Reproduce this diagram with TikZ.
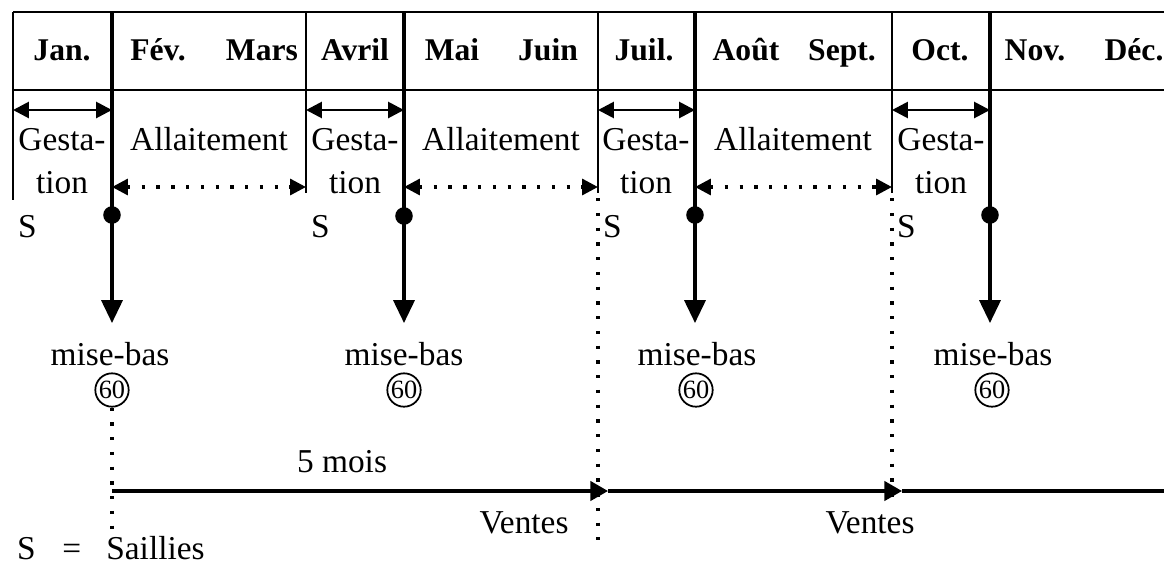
\documentclass[tikz,border=0pt]{standalone}
\usepackage{fontspec}
\setmainfont{Liberation Serif}
\usetikzlibrary{arrows.meta,positioning,calc}

\begin{document}
\begin{tikzpicture}[x=0.02cm,y=-0.02cm,
  every path/.style={line width=1.4pt},
  monthlbl/.style={font=\fontsize{18}{20}\selectfont\bfseries,inner sep=0pt,text height=1.6ex,text depth=.2ex},
  txt/.style={font=\fontsize{19}{21}\selectfont,inner sep=0pt,text height=1.6ex,text depth=.2ex},
  dotvertex/.style={circle,fill=black,inner sep=0pt,minimum size=10pt},
  ringlbl/.style={circle,draw=black,line width=1pt,inner sep=0pt,minimum size=19pt,font=\fontsize{15}{16}\selectfont},
  gestarrow/.style={{Triangle[length=9pt,width=9pt]}-{Triangle[length=9pt,width=9pt]},line width=1.6pt},
  allarrow/.style={{Triangle[length=9pt,width=9pt]}-{Triangle[length=9pt,width=9pt]},line width=1.9pt,dash pattern=on 1.9pt off 6.5pt},
  birtharrow/.style={-{Triangle[length=13pt,width=12pt]},line width=1.8pt},
  saleline/.style={line width=1.9pt,dash pattern=on 1.9pt off 6.5pt},
  salearrow/.style={-{Triangle[length=10pt,width=11pt]},line width=1.8pt}]
\useasboundingbox (0,0) rectangle (1164,569);

% table of months
\coordinate (g0) at (13,12);
\coordinate (g1) at (112,12);
\coordinate (g2) at (306,12);
\coordinate (g3) at (404,12);
\coordinate (g4) at (598,12);
\coordinate (g5) at (695,12);
\coordinate (g6) at (892,12);
\coordinate (g7) at (990,12);
\draw (g0) -- (1164,12);
\draw (13,90) -- (1164,90);
\draw (g0) -- (13,200);
\draw (g2) -- (306,193);
\draw (g4) -- (598,193);
\draw (g6) -- (892,193);
\draw (g7) -- (990,90);

\node[monthlbl] (jan) at (62,55) {Jan.};
\node[monthlbl] (fev) at (158,55) {Fév.};
\node[monthlbl] (mar) at (262,55) {Mars};
\node[monthlbl] (avr) at (355,55) {Avril};
\node[monthlbl] (mai) at (452,55) {Mai};
\node[monthlbl] (jun) at (548,55) {Juin};
\node[monthlbl] (jul) at (644,55) {Juil.};
\node[monthlbl] (aou) at (746,55) {Août};
\node[monthlbl] (sep) at (842,55) {Sept.};
\node[monthlbl] (oct) at (940,55) {Oct.};
\node[monthlbl] (nov) at (1035,55) {Nov.};
\node[monthlbl] (dec) at (1134,55) {Déc.};

% gestation / allaitement
\coordinate (gs1) at (13,110);
\coordinate (ge1) at (112,110);
\coordinate (gs2) at (306,110);
\coordinate (ge2) at (404,110);
\coordinate (gs3) at (598,110);
\coordinate (ge3) at (695,110);
\coordinate (gs4) at (892,110);
\coordinate (ge4) at (990,110);
\draw[gestarrow] (gs1) -- (ge1);
\draw[gestarrow] (gs2) -- (ge2);
\draw[gestarrow] (gs3) -- (ge3);
\draw[gestarrow] (gs4) -- (ge4);
\coordinate (as1) at (112,187);
\coordinate (ae1) at (306,187);
\coordinate (as2) at (404,187);
\coordinate (ae2) at (598,187);
\coordinate (as3) at (695,187);
\coordinate (ae3) at (892,187);
\draw[allarrow] (as1) -- (ae1);
\draw[allarrow] (as2) -- (ae2);
\draw[allarrow] (as3) -- (ae3);

\node[txt] (ge1a) at (62,145) {Gesta-};
\node[txt] (ge1b) at (62,188) {tion};
\node[txt] (ge2a) at (355,145) {Gesta-};
\node[txt] (ge2b) at (355,188) {tion};
\node[txt] (ge3a) at (646,145) {Gesta-};
\node[txt] (ge3b) at (646,188) {tion};
\node[txt] (ge4a) at (941,145) {Gesta-};
\node[txt] (ge4b) at (941,188) {tion};
\node[txt] (al1) at (209,145) {Allaitement};
\node[txt] (al2) at (501,145) {Allaitement};
\node[txt] (al3) at (793,145) {Allaitement};

% saillies and mises-bas
\node[txt,anchor=west] (s1) at (17,232) {S};
\node[txt,anchor=west] (s2) at (310,232) {S};
\node[txt,anchor=west] (s3) at (602,232) {S};
\node[txt,anchor=west] (s4) at (896,232) {S};
\coordinate (m1) at (112,323);
\coordinate (m2) at (404,323);
\coordinate (m3) at (695,323);
\coordinate (m4) at (990,323);
\draw[birtharrow] (g1) -- (m1);
\draw[birtharrow] (g3) -- (m2);
\draw[birtharrow] (g5) -- (m3);
\draw[birtharrow] (g7) -- (m4);
\node[dotvertex] (d1) at (112,215) {};
\node[dotvertex] (d2) at (404,216) {};
\node[dotvertex] (d3) at (695,215) {};
\node[dotvertex] (d4) at (990,215) {};
\node[txt] (mb1) at (110,360) {mise-bas};
\node[txt] (mb2) at (404,360) {mise-bas};
\node[txt] (mb3) at (697,360) {mise-bas};
\node[txt] (mb4) at (993,360) {mise-bas};
\node[ringlbl] (r1) at (112,390) {60};
\node[ringlbl] (r2) at (404,390) {60};
\node[ringlbl] (r3) at (696,390) {60};
\node[ringlbl] (r4) at (992,390) {60};

% ventes
\coordinate (v0) at (112,540);
\coordinate (v1t) at (598,198);
\coordinate (v1b) at (598,540);
\coordinate (v2t) at (892,198);
\coordinate (v2b) at (892,503);
\draw[saleline] (r1.south) -- (v0);
\draw[saleline] (v1t) -- (v1b);
\draw[saleline] (v2t) -- (v2b);
\coordinate (h0) at (112,491);
\coordinate (h1) at (608,491);
\coordinate (h2) at (902,491);
\coordinate (h3) at (1164,491);
\draw[salearrow] (h0) -- (h1);
\draw[salearrow] (h1) -- (h2);
\draw[line width=1.8pt] (h2) -- (h3);
\node[txt] (mois) at (342,467) {5 mois};
\node[txt] (ve1) at (524,528) {Ventes};
\node[txt] (ve2) at (870,528) {Ventes};
\node[txt,anchor=west] (leg) at (16,554) {S\hspace{0.8em}=\hspace{0.75em}Saillies};
\end{tikzpicture}
\end{document}
